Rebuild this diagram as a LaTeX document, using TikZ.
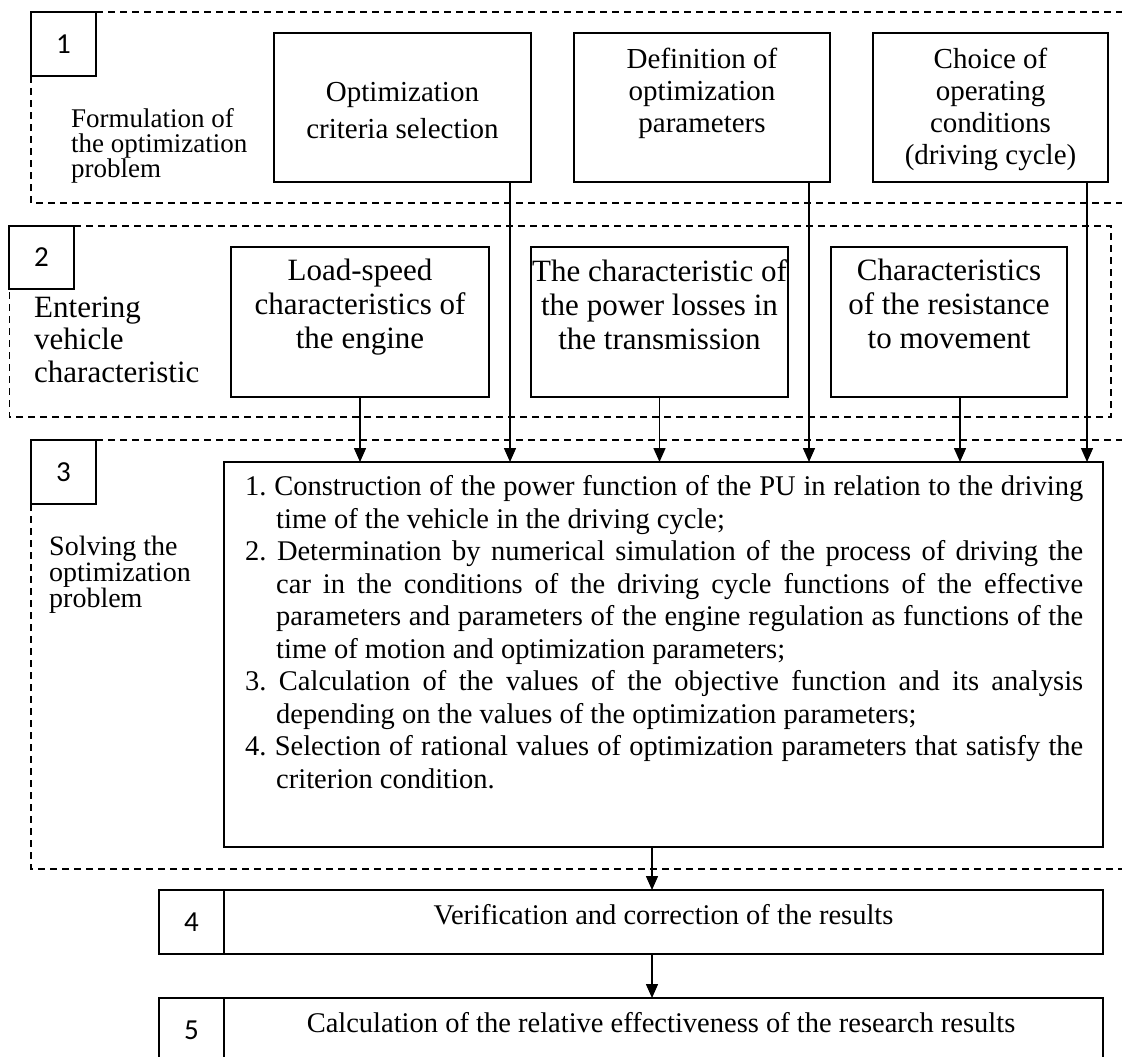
\documentclass[tikz,border=0pt]{standalone}
\usepackage{fontspec}
\setmainfont{Liberation Serif}
\newfontfamily\numfont{Carlito}
\usetikzlibrary{arrows.meta}
\frenchspacing
\begin{document}
\begin{tikzpicture}[x=1pt,y=-1pt,
  solidbox/.style={draw, line width=1.5pt, inner sep=0pt, outer sep=0pt},
  numbox/.style={solidbox, font={\numfont\fontsize{29}{29}\selectfont}},
  dashline/.style={line width=1.5pt, dash pattern=on 7pt off 5pt},
  arr/.style={line width=1.5pt, -{Triangle[width=12pt,length=14pt]}},
  rowone/.style={font={\fontsize{29}{32}\selectfont}, align=center, inner sep=0pt, anchor=north},
  rowtwo/.style={font={\fontsize{31}{34}\selectfont}, align=center, inner sep=0pt, anchor=north},
  sidelabel/.style={align=left, inner sep=0pt, anchor=north west},
  bottomtxt/.style={font={\fontsize{28.5}{30}\selectfont}, inner sep=0pt, anchor=base}
]
\useasboundingbox (0,0) rectangle (1122,1057);
\begin{scope}
\clip (0,0) rectangle (1122,1057);

% ---- dashed frames
\draw[dashline] (96,12) -- (1122,12);
\draw[dashline] (31,76) -- (31,203) -- (1122,203);
\draw[dashline] (74,226) -- (1111,226) -- (1111,417) -- (9.5,417) -- (9.5,289);
\draw[dashline] (96,440) -- (1122,440);
\draw[dashline] (31,504) -- (31,869) -- (1122,869);

% ---- number boxes
\node[numbox, minimum width=65pt, minimum height=64pt] (n1) at (63.5,44) {1};
\node[numbox, minimum width=65pt, minimum height=63pt] (n2) at (41.5,257.5) {2};
\node[numbox, minimum width=65pt, minimum height=64pt] (n3) at (63.5,472) {3};

% ---- side labels
\node[sidelabel, font={\fontsize{27}{25}\selectfont}] (lab1) at (71,108.6)
  {Formulation of\\the optimization\\problem};
\node[sidelabel, font={\fontsize{31}{32.5}\selectfont}] (lab2) at (34,296.5)
  {Entering\\vehicle\\characteristic};
\node[sidelabel, font={\fontsize{28}{26}\selectfont}] (lab3) at (49,536)
  {Solving the\\optimization\\problem};

% ---- row 1
\node[solidbox, minimum width=257pt, minimum height=149pt] (crit) at (402.5,107.5) {};
\node[solidbox, minimum width=256pt, minimum height=149pt] (defn) at (702,107.5) {};
\node[solidbox, minimum width=235pt, minimum height=149pt] (choice) at (990.5,107.5) {};
\node[rowone, font={\fontsize{29}{37}\selectfont}] (critT) at (402.5,82) {Optimization\\criteria selection};
\node[rowone] (defnT) at (702,48) {Definition of\\optimization\\parameters};
\node[rowone] (choiceT) at (990.5,48) {Choice of\\operating\\conditions\\(driving cycle)};

% ---- row 2
\node[solidbox, minimum width=258pt, minimum height=150pt] (load) at (360,322) {};
\node[solidbox, minimum width=257pt, minimum height=150pt] (trans) at (659.5,322) {};
\node[solidbox, minimum width=236pt, minimum height=150pt] (resist) at (949,322) {};
\node[rowtwo] (loadT) at (360,259) {Load-speed\\characteristics of\\the engine};
\node[rowtwo] (transT) at (659.5,259) {The characteristic of\\the power losses in\\the transmission};
\node[rowtwo] (resistT) at (949,259) {Characteristics\\of the resistance\\to movement};

% ---- big box
\node[solidbox, minimum width=879pt, minimum height=385pt] (big) at (663.5,654.5) {};
\node[inner sep=0pt, anchor=north west, text width=838pt, align=justify] (bigT) at (245,475.5) {%
\fontsize{28.5}{32.5}\selectfont\parindent=0pt\tolerance=10000\frenchspacing
\hangindent=31pt\hangafter=1 1. Construction of the power function of the PU in relation to the driving\linebreak time of the vehicle in the driving cycle;\par
\hangindent=31pt\hangafter=1 2. Determination by numerical simulation of the process of driving the\linebreak car in the conditions of the driving cycle functions of the effective\linebreak parameters and parameters of the engine regulation as functions of the\linebreak time of motion and optimization parameters;\par
\hangindent=31pt\hangafter=1 3. Calculation of the values of the objective function and its analysis\linebreak depending on the values of the optimization parameters;\par
\hangindent=31pt\hangafter=1 4. Selection of rational values of optimization parameters that satisfy the\linebreak criterion condition.\par};

% ---- boxes 4 and 5
\node[numbox, minimum width=65pt, minimum height=64pt] (n4) at (191.5,922) {4};
\node[solidbox, minimum width=879pt, minimum height=64pt] (verif) at (663.5,922) {};
\node[bottomtxt] (verifT) at (663.5,924) {Verification and correction of the results};
\node[numbox, minimum width=65pt, minimum height=64pt] (n5) at (191.5,1030) {5};
\node[solidbox, minimum width=879pt, minimum height=64pt] (calc) at (663.5,1030) {};
\node[bottomtxt] (calcT) at (661,1032) {Calculation of the relative effectiveness of the research results};

% ---- connectors
\coordinate (xc) at (510,0);
\coordinate (xd) at (809,0);
\coordinate (xr) at (960,0);
\coordinate (xch) at (1087,0);
\coordinate (xv) at (652,0);
\draw[arr] (load.south) -- (big.north -| load.south);
\draw[arr] (crit.south -| xc) -- (big.north -| xc);
\draw[arr] (trans.south) -- (big.north -| trans.south);
\draw[arr] (defn.south -| xd) -- (big.north -| xd);
\draw[arr] (resist.south -| xr) -- (big.north -| xr);
\draw[arr] (choice.south -| xch) -- (big.north -| xch);
\draw[arr] (big.south -| xv) -- (verif.north -| xv);
\draw[arr] (verif.south -| xv) -- (calc.north -| xv);
\end{scope}
\end{tikzpicture}
\end{document}
